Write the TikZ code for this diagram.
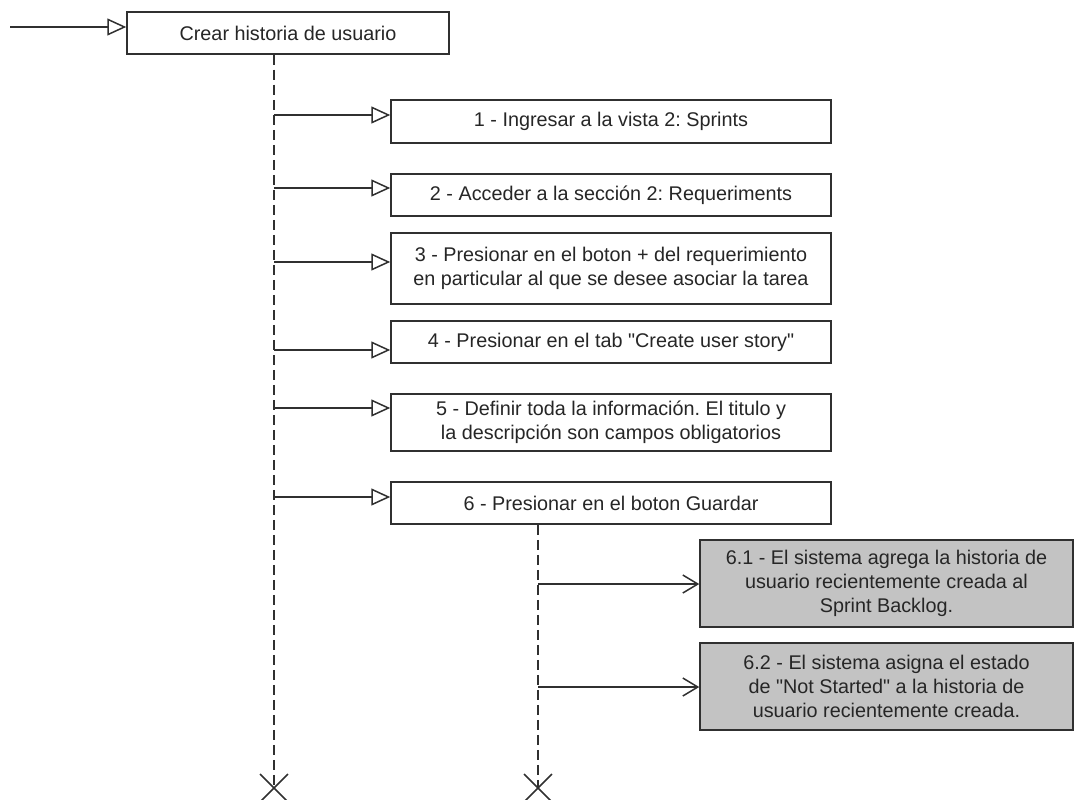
\documentclass[tikz,border=0pt]{standalone}
\usepackage{fontspec}
\setmainfont{Liberation Sans}
\usetikzlibrary{arrows.meta}
\definecolor{linea}{HTML}{303030}
\definecolor{gris}{HTML}{C3C3C3}
\tikzset{
  paso/.style={draw=linea, line width=1.5pt, fill=white, align=center, inner sep=0pt, text=black!85, font=\fontsize{19.8}{24}\selectfont\frenchspacing},
  accion/.style={paso, fill=gris},
  llamada/.style={draw=linea, line width=1.5pt, -{Triangle[open, length=19pt, width=17pt]}},
  respuesta/.style={draw=linea, line width=1.5pt, -{Straight Barb[length=15pt, width=18pt]}},
  vida/.style={draw=linea, line width=1.5pt, dash pattern=on 10pt off 5pt},
  cruz/.style={draw=linea, line width=1.5pt},
}

\begin{document}
\begin{tikzpicture}[x=1pt, y=-1pt]
% Diagrama de secuencia: Crear historia de usuario
\useasboundingbox (0,0) rectangle (1074,800);
\node[paso, minimum width=322pt, minimum height=42pt] (titulo) at (288,33) {Crear historia de usuario};
\node[paso, minimum width=440pt, minimum height=43pt] (s1) at (611,121.5) {1 - Ingresar a la vista 2: Sprints};
\node[paso, minimum width=440pt, minimum height=42pt] (s2) at (611,195) {2 - Acceder a la sección 2: Requeriments};
\node[paso, minimum width=440pt, minimum height=71pt] (s3) at (611,268.5) {3 - Presionar en el boton + del requerimiento\\en particular al que se desee asociar la tarea};
\node[paso, minimum width=440pt, minimum height=42pt] (s4) at (611,342) {4 - Presionar en el tab \textquotedbl Create user story\textquotedbl};
\node[paso, minimum width=440pt, minimum height=57pt] (s5) at (611,422.5) {5 - Definir toda la información. El titulo y\\la descripción son campos obligatorios};
\node[paso, minimum width=440pt, minimum height=42pt] (s6) at (611,503) {6 - Presionar en el boton Guardar};
\node[accion, minimum width=373pt, minimum height=87pt] (s61) at (886.5,583.5) {6.1 - El sistema agrega la historia de\\usuario recientemente creada al\\Sprint Backlog.};
\node[accion, minimum width=373pt, minimum height=87pt] (s62) at (886.5,686.5) {6.2 - El sistema asigna el estado\\de \textquotedbl Not Started\textquotedbl{} a la historia de\\usuario recientemente creada.};

% lineas de vida
\coordinate (inicio) at (10,27);
\coordinate (fin1) at (274,788);
\coordinate (fin2) at (538,788);
\draw[vida] (titulo.south -| fin1) -- (fin1);
\draw[vida] (s6.south -| fin2) -- (fin2);
\draw[cruz] (fin1) +(-14,-14) -- +(14,14) (fin1) +(-14,14) -- +(14,-14);
\draw[cruz] (fin2) +(-14,-14) -- +(14,14) (fin2) +(-14,14) -- +(14,-14);

% mensajes
\coordinate (m1) at (274,115);
\coordinate (m2) at (274,188);
\coordinate (m3) at (274,262);
\coordinate (m4) at (274,350);
\coordinate (m5) at (274,408);
\coordinate (m6) at (274,497);
\coordinate (m61) at (538,584);
\coordinate (m62) at (538,687);
\draw[llamada] (inicio) -- (inicio -| titulo.west);
\draw[llamada] (m1) -- (m1 -| s1.west);
\draw[llamada] (m2) -- (m2 -| s2.west);
\draw[llamada] (m3) -- (m3 -| s3.west);
\draw[llamada] (m4) -- (m4 -| s4.west);
\draw[llamada] (m5) -- (m5 -| s5.west);
\draw[llamada] (m6) -- (m6 -| s6.west);
\draw[respuesta] (m61) -- (m61 -| s61.west);
\draw[respuesta] (m62) -- (m62 -| s62.west);
\end{tikzpicture}
\end{document}
